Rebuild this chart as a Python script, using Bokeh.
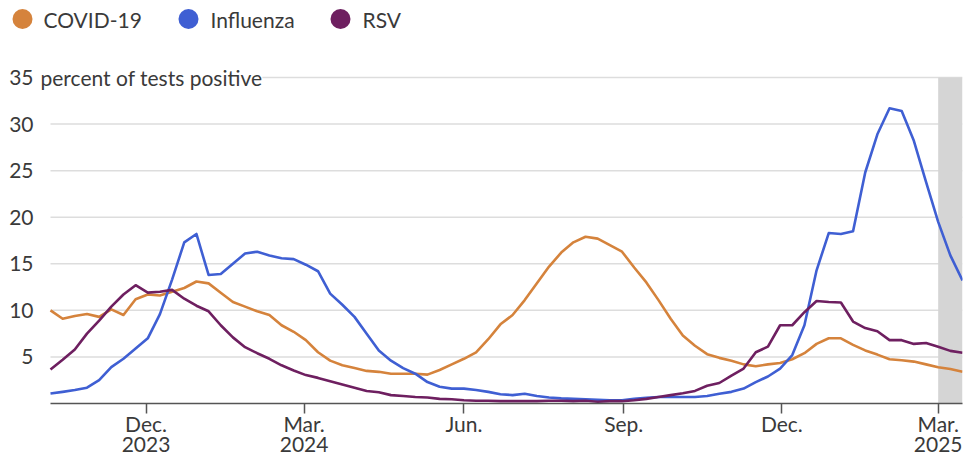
import pandas as pd
from bokeh.plotting import figure
from bokeh.layouts import column
from bokeh.models import Range1d, FixedTicker, Label, ColumnDataSource, DatetimeAxis
from bokeh.core.properties import value
from bokeh.embed import file_html
from bokeh.resources import INLINE

# ---------------- data ----------------
weeks = pd.date_range("2023-10-07", periods=76, freq="7D")

covid = [10.0, 9.1, 9.4, 9.6, 9.3, 10.1, 9.5, 11.2, 11.7, 11.6,
         12.0, 12.4, 13.1, 12.9, 11.9, 10.9, 10.4, 9.9, 9.5, 8.4,
         7.7, 6.8, 5.5, 4.6, 4.1, 3.8, 3.5, 3.4, 3.2, 3.2,
         3.2, 3.1, 3.6, 4.2, 4.8, 5.5, 6.9, 8.5, 9.5, 11.1,
         12.9, 14.7, 16.2, 17.3, 17.9, 17.7, 17.0, 16.3, 14.6, 13.0,
         11.1, 9.1, 7.3, 6.2, 5.3, 4.9, 4.6, 4.2, 4.0, 4.2,
         4.35, 4.75, 5.4, 6.4, 7.0, 7.0, 6.3, 5.7, 5.25, 4.75,
         4.65, 4.5, 4.2, 3.9, 3.7, 3.4]

influenza = [1.07, 1.25, 1.45, 1.7, 2.5, 3.9, 4.8, 5.9, 7.0, 9.6,
             13.3, 17.3, 18.2, 13.8, 13.9, 15.0, 16.1, 16.3, 15.9, 15.6,
             15.5, 14.9, 14.2, 11.8, 10.6, 9.3, 7.5, 5.7, 4.6, 3.8,
             3.2, 2.3, 1.8, 1.6, 1.6, 1.45, 1.25, 1.0, 0.9, 1.05,
             0.8, 0.65, 0.55, 0.5, 0.45, 0.4, 0.35, 0.35, 0.5, 0.6,
             0.7, 0.7, 0.7, 0.7, 0.8, 1.05, 1.25, 1.6, 2.3, 2.9,
             3.75, 5.2, 8.4, 14.3, 18.3, 18.2, 18.5, 24.8, 28.9, 31.7,
             31.4, 28.2, 23.8, 19.5, 15.9, 13.2]

rsv = [3.65, 4.7, 5.8, 7.5, 8.9, 10.4, 11.7, 12.7, 11.9, 12.0,
       12.2, 11.25, 10.5, 9.9, 8.4, 7.1, 6.05, 5.4, 4.8, 4.1,
       3.55, 3.05, 2.75, 2.4, 2.05, 1.7, 1.35, 1.2, 0.9, 0.8,
       0.7, 0.65, 0.5, 0.45, 0.35, 0.3, 0.3, 0.25, 0.25, 0.25,
       0.25, 0.3, 0.3, 0.25, 0.3, 0.18, 0.25, 0.25, 0.35, 0.5,
       0.7, 0.9, 1.1, 1.35, 1.9, 2.2, 3.0, 3.75, 5.5, 6.1,
       8.4, 8.4, 9.8, 11.0, 10.9, 10.85, 8.8, 8.1, 7.75, 6.8,
       6.8, 6.4, 6.5, 6.1, 5.65, 5.45]

series_names = ["COVID-19", "Influenza", "RSV"]
month_tick_dates = ["2023-12-01", "2024-03-01", "2024-06-01",
                    "2024-09-01", "2024-12-01", "2025-03-01"]
month_tick_labels = ["Dec.", "Mar.", "Jun.", "Sep.", "Dec.", "Mar."]
year_tick_dates = ["2023-12-01", "2024-03-01", "2025-03-01"]
year_tick_labels = ["2023", "2024", "2025"]
y_ticks = [5, 10, 15, 20, 25, 30, 35]
y_unit_label = "percent of tests positive"
shade_start = "2025-03-01"

# ---------------- styles / layout ----------------
colors = ["#D5833C", "#3F5FD3", "#6E1F60"]
FONT = "Lato"
TXT = "#3a3a3a"
FS = "21px"
GRID = "#dddddd"

def ms(d):
    return int(pd.Timestamp(d).value // 10**6)

ms0, ms1 = ms(weeks[0]), ms(weeks[-1])
DATA_W = 912                      # px from first to last week
PAD_L = 50                        # frame room left of first week (holds y labels)
ms_per_px = (ms1 - ms0) / DATA_W
FRAME_W = DATA_W + PAD_L
FRAME_H = 345
Y_TOP = 35 * FRAME_H / 326.0      # keeps 35 at the same pixel as the reference

src = ColumnDataSource(dict(week=weeks, covid=covid, influenza=influenza, rsv=rsv))
cols = ["covid", "influenza", "rsv"]

p = figure(frame_width=FRAME_W, frame_height=FRAME_H,
           x_axis_type="datetime", y_axis_location=None,
           x_range=Range1d(ms0 - PAD_L * ms_per_px, ms1),
           y_range=Range1d(0, Y_TOP),
           min_border_left=0, min_border_right=1, min_border_top=18, min_border_bottom=0,
           toolbar_location=None, output_backend="svg")
p.outline_line_color = None
p.background_fill_color = "white"
p.xgrid.grid_line_color = None
p.ygrid.grid_line_color = None

# horizontal grid lines, limited to the data span
n = len(y_ticks)
p.segment(x0=[weeks[0]] * n, x1=[weeks[-1]] * n, y0=y_ticks, y1=y_ticks,
          line_color=GRID, line_width=1.5)

# y tick labels
p.text(x=[weeks[0]] * n, y=y_ticks, text=[str(t) for t in y_ticks], x_offset=-17,
       text_align="right", text_baseline="middle", text_font=value(FONT),
       text_font_size=FS, text_color=TXT)

# shaded (incomplete data) period
p.quad(left=[pd.Timestamp(shade_start)], right=[weeks[-1]], bottom=[0], top=[y_ticks[-1]],
       fill_color="#d5d5d5", line_color=None)

for c, col in zip(colors, cols):
    p.line(x="week", y=col, source=src, line_width=2.6, line_color=c, line_join="round")

# x axis: months (with ticks)
p.xaxis.bounds = (ms0, ms1)
p.xaxis.ticker = FixedTicker(ticks=[ms(d) for d in month_tick_dates])
p.xaxis.major_label_overrides = {ms(d): lab for d, lab in zip(month_tick_dates, month_tick_labels)}
p.xaxis.axis_line_color = "#555555"
p.xaxis.axis_line_width = 1.5
p.xaxis.major_tick_line_color = "#555555"
p.xaxis.major_tick_line_width = 1.5
p.xaxis.major_tick_in = 0
p.xaxis.major_tick_out = 10
p.xaxis.minor_tick_line_color = None
p.xaxis.major_label_standoff = -3
p.xaxis.major_label_text_font = FONT
p.xaxis.major_label_text_font_size = FS
p.xaxis.major_label_text_color = TXT

# x axis: years (second row)
year_axis = DatetimeAxis(ticker=FixedTicker(ticks=[ms(d) for d in year_tick_dates]),
                         major_label_overrides={ms(d): lab for d, lab in zip(year_tick_dates, year_tick_labels)},
                         axis_line_color=None, major_tick_line_color=None,
                         minor_tick_line_color=None, major_tick_in=0, major_tick_out=0,
                         major_label_standoff=-2,
                         major_label_text_font=FONT, major_label_text_font_size=FS,
                         major_label_text_color=TXT)
p.add_layout(year_axis, "below")

p.add_layout(Label(x=ms0, y=y_ticks[-1], x_offset=-10, text=y_unit_label,
                   text_align="left", text_baseline="middle",
                   text_font=FONT, text_font_size=FS, text_color=TXT,
                   background_fill_color="white"))

# ---------------- legend ----------------
LEG_H = 40
leg = figure(frame_width=FRAME_W, frame_height=LEG_H,
             x_range=Range1d(0, FRAME_W), y_range=Range1d(0, LEG_H),
             x_axis_location=None, y_axis_location=None,
             min_border_left=0, min_border_right=1, min_border_top=0, min_border_bottom=0,
             toolbar_location=None, output_backend="svg")
leg.grid.grid_line_color = None
leg.outline_line_color = None
leg_dot_x = [22, 188, 340]
leg_text_x = [43, 210, 362]
leg_src = ColumnDataSource(dict(dx=leg_dot_x, tx=leg_text_x, y=[LEG_H - 18.5] * 3,
                                name=series_names, color=colors))
leg.scatter(x="dx", y="y", source=leg_src, size=20, fill_color="color", line_color=None)
leg.text(x="tx", y="y", text="name", source=leg_src, text_font=value(FONT),
         text_font_size=FS, text_color=TXT, text_baseline="middle", text_align="left")

layout = column(leg, p, spacing=0)
open("out.html", "w").write(file_html(layout, INLINE))
